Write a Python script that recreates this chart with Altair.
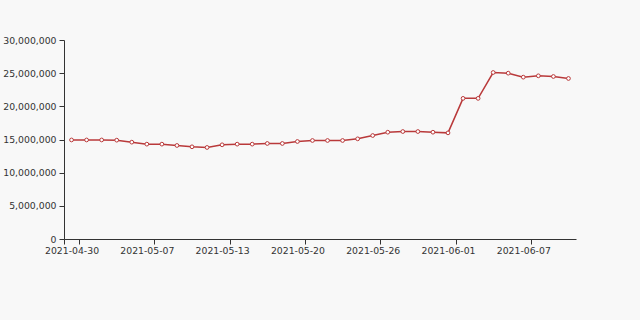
import altair as alt
import pandas as pd

dates = [
    "2021-04-30", "2021-05-03", "2021-05-04", "2021-05-05", "2021-05-06",
    "2021-05-07", "2021-05-08", "2021-05-10", "2021-05-11", "2021-05-12",
    "2021-05-13", "2021-05-14", "2021-05-17", "2021-05-18", "2021-05-19",
    "2021-05-20", "2021-05-21", "2021-05-22", "2021-05-24", "2021-05-25",
    "2021-05-26", "2021-05-27", "2021-05-28", "2021-05-29", "2021-05-31",
    "2021-06-01", "2021-06-02", "2021-06-03", "2021-06-04", "2021-06-05",
    "2021-06-07", "2021-06-08", "2021-06-09", "2021-06-10",
]
values = [
    14930000, 14930000, 14930000, 14900000, 14600000,
    14300000, 14300000, 14100000, 13900000, 13800000,
    14200000, 14300000, 14300000, 14400000, 14400000,
    14700000, 14850000, 14850000, 14850000, 15100000,
    15600000, 16100000, 16200000, 16200000, 16100000,
    16000000, 21200000, 21200000, 25100000, 25000000,
    24400000, 24600000, 24500000, 24200000,
]
label_dates = [dates[i] for i in range(0, len(dates), 5)]
y_ticks = [0, 5000000, 10000000, 15000000, 20000000, 25000000, 30000000]

df = pd.DataFrame({"date": dates, "value": values})

color = "#b9393a"
font = "DejaVu Sans"

x = alt.X(
    "date:O",
    sort=None,
    bandPosition=0.5,
    scale=alt.Scale(type="band", paddingInner=0, paddingOuter=0),
    axis=alt.Axis(
        title=None,
        values=label_dates,
        labelAngle=0,
        tickBand="extent",
        tickSize=5,
        labelPadding=2,
        domainColor="#333333",
        tickColor="#333333",
        labelColor="#333333",
        labelFont=font,
        labelFontSize=9.3,
        grid=False,
    ),
)
y = alt.Y(
    "value:Q",
    scale=alt.Scale(domain=[0, 30000000], nice=False),
    axis=alt.Axis(
        title=None,
        values=y_ticks,
        format=",.0f",
        tickSize=5,
        labelPadding=3,
        domainColor="#333333",
        tickColor="#333333",
        labelColor="#333333",
        labelFont=font,
        labelFontSize=9.3,
        grid=False,
    ),
)

line = alt.Chart(df).mark_line(color=color, strokeWidth=1.5).encode(x=x, y=y)
pts = alt.Chart(df).mark_point(
    shape="circle", filled=True, fill="white", stroke=color, strokeWidth=1, size=14, opacity=1
).encode(x=x, y=y)

chart = (
    alt.layer(line, pts)
    .properties(
        width=512,
        height=199,
        background="#f8f8f8",
        autosize=alt.AutoSizeParams(type="none"),
        padding={"left": 64, "top": 40, "right": 64, "bottom": 81},
    )
    .configure_view(stroke=None)
)

chart.save("out.html", embed_options={"renderer": "svg", "actions": False})
